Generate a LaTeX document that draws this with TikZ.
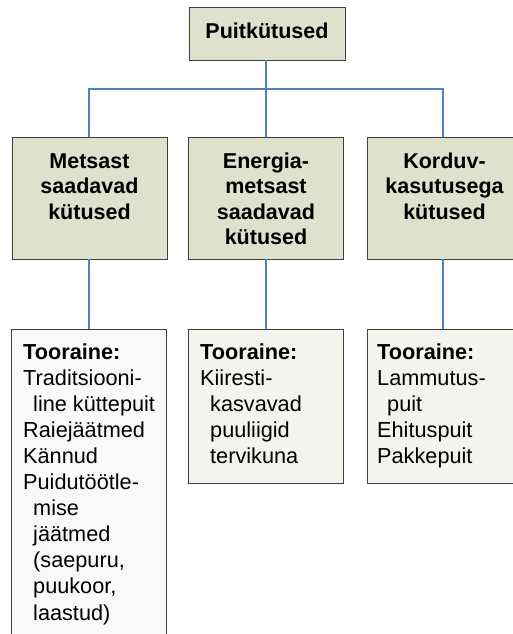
\documentclass[tikz,border=0pt]{standalone}
\usepackage{fontspec}
\setmainfont{Liberation Sans}
\definecolor{headfill}{HTML}{DEE1CC}
\definecolor{rawfill}{HTML}{F2F4EE}
\definecolor{rawfillA}{HTML}{F9F9F8}
\definecolor{edge}{HTML}{404040}
\definecolor{wire}{HTML}{4F81BD}
\tikzset{
  box/.style={draw=edge, line width=0.9pt, rectangle, inner sep=0pt},
  headbox/.style={box, fill=headfill, minimum width=155pt, minimum height=122pt},
  rawbox/.style={box, fill=rawfill, minimum width=155pt, minimum height=154pt},
  conn/.style={draw=wire, line width=1.6pt},
  headtext/.style={anchor=base, inner sep=0pt},
  rawtext/.style={anchor=base west, inner sep=0pt},
}
\newcommand{\headlines}[1]{\parbox[t]{150pt}{\centering\fontsize{21.5}{25.5}\selectfont\bfseries #1}}
\newcommand{\rawlines}[1]{\parbox[t]{145pt}{\raggedright\fontsize{21.7}{26.1}\selectfont #1}}
\newcommand{\ind}{\hspace*{10pt}}
\begin{document}
\begin{tikzpicture}[x=1pt, y=-1pt]
  \useasboundingbox (0,0) rectangle (513,634);
  \begin{scope}
    \clip (0,0) rectangle (513,634);

    % top level
    \node[box, fill=headfill, minimum width=156pt, minimum height=53pt] (top) at (267.5,33.5) {};
    \node[headtext] (toptext) at (267,38) {\fontsize{21.5}{25.5}\selectfont\bfseries Puitkütused};

    % fuel groups
    \node[headbox] (m1) at (89.5,198) {};
    \node[headbox] (m2) at (266,198) {};
    \node[headbox] (m3) at (444.5,198) {};
    \node[headtext] (m1text) at (89.5,168) {\headlines{Metsast\\saadavad\\kütused}};
    \node[headtext] (m2text) at (266,168) {\headlines{Energia-\\metsast\\saadavad\\kütused}};
    \node[headtext] (m3text) at (444.5,168) {\headlines{Korduv-\\kasutusega\\kütused}};

    % raw materials
    \node[rawbox, fill=rawfillA, minimum height=340pt] (b1) at (89,499) {};
    \node[rawbox] (b2) at (266,406) {};
    \node[rawbox] (b3) at (444.5,406) {};
    \node[rawtext] (b1text) at (23,359) {\rawlines{\textbf{Tooraine:}\\Traditsiooni-\\\ind line küttepuit\\Raiejäätmed\\Kännud\\Puidutöötle-\\\ind mise\\\ind jäätmed\\\ind (saepuru,\\\ind puukoor,\\\ind laastud)}};
    \node[rawtext] (b2text) at (200,359) {\rawlines{\textbf{Tooraine:}\\Kiiresti-\\\ind kasvavad\\\ind puuliigid\\\ind tervikuna}};
    \node[rawtext] (b3text) at (377,359) {\rawlines{\textbf{Tooraine:}\\Lammutus-\\\ind puit\\Ehituspuit\\Pakkepuit}};

    % connectors
    \coordinate (bus) at (266,89);
    \draw[conn] (top.south -| bus) -- (bus);
    \draw[conn] (m1.north -| 89,0) |- (bus) -| (m3.north -| 443,0);
    \draw[conn] (m2.north) -- (m2.north |- bus);
    \draw[conn] (m1.south -| 89,0) -- (b1.north -| 89,0);
    \draw[conn] (m2.south) -- (b2.north);
    \draw[conn] (m3.south -| 443,0) -- (b3.north -| 443,0);
  \end{scope}
\end{tikzpicture}
\end{document}
